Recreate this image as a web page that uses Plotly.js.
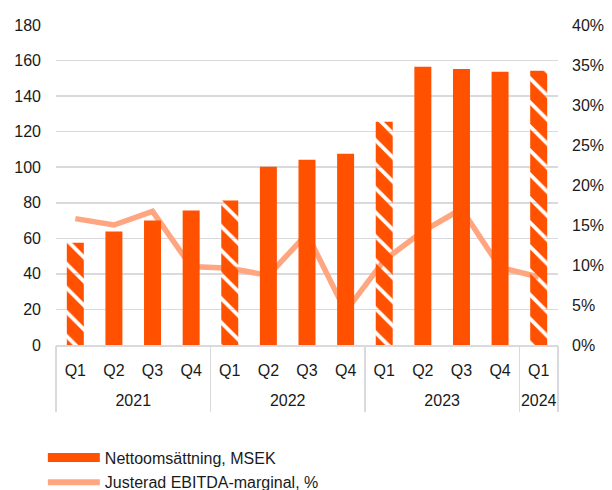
<!DOCTYPE html>
<html>
<head>
<meta charset="utf-8">
<script src="https://cdn.plot.ly/plotly-3.0.1.min.js"></script>
<style>html,body{margin:0;padding:0;background:#fff;}#chart{width:612px;height:490px;}</style>
</head>
<body>
<div id="chart"></div>
<script>
const years = ['2021','2021','2021','2021','2022','2022','2022','2022','2023','2023','2023','2023','2024'];
const quarters = ['Q1','Q2','Q3','Q4','Q1','Q2','Q3','Q4','Q1','Q2','Q3','Q4','Q1'];
const nettoomsattning = [57.5, 63.8, 70, 75.7, 81.3, 100.3, 104.2, 107.6, 125.6, 156.5, 155.3, 153.7, 154.2];
const ebitdaMarginal = [15.8, 15.0, 16.7, 9.8, 9.6, 8.7, 13.9, 4.2, 10.6, 14.2, 17.0, 9.7, 8.5];
const barName = 'Nettoomsättning, MSEK';
const lineName = 'Justerad EBITDA-marginal, %';

const orange = '#FF5100';
const lightOrange = '#FFA680';
const gridGray = '#d9d9de';

// category positions derived from the arrays
const idx = quarters.map((_, i) => i);
const yearList = [...new Set(years)];
const yearCenters = yearList.map(y => {
  const ii = idx.filter(i => years[i] === y);
  return (ii[0] + ii[ii.length - 1]) / 2;
});
const yearBounds = [-0.5].concat(yearList.map(y => idx.filter(i => years[i] === y).pop() + 0.5));
const xRange = [-0.5, quarters.length - 0.5];
const hatch = quarters.map(q => q === 'Q1' ? '\\' : '');

const lineTrace = {
  type: 'scatter', mode: 'lines',
  x: idx, y: ebitdaMarginal,
  xaxis: 'x', yaxis: 'y', name: lineName,
  line: {color: lightOrange, width: 5.5},
  showlegend: false, hoverinfo: 'skip'
};
const barTrace = {
  type: 'bar',
  x: idx, y: nettoomsattning,
  xaxis: 'x', yaxis: 'y2', name: barName,
  marker: {color: orange, line: {width: 0},
    pattern: {shape: hatch, fgcolor: orange, bgcolor: 'rgba(255,255,255,0)', size: 17, solidity: 0.78, fillmode: 'replace'}},
  showlegend: false, hoverinfo: 'skip'
};
// carriers so the year-label axis and the divider axis get drawn
const yearAxisCarrier = {type: 'scatter', mode: 'lines', x: [null], y: [null], xaxis: 'x2', yaxis: 'y',
  showlegend: false, hoverinfo: 'skip'};
const dividerAxisCarrier = {type: 'scatter', mode: 'lines', x: [null], y: [null], xaxis: 'x3', yaxis: 'y',
  showlegend: false, hoverinfo: 'skip'};
const legendBar = {type: 'scatter', mode: 'lines', x: [null], y: [null], name: barName, legendgroup: 'a',
  line: {color: orange, width: 9}, showlegend: true};
const legendLine = {type: 'scatter', mode: 'lines', x: [null], y: [null], name: lineName, legendgroup: 'b',
  line: {color: lightOrange, width: 6}, showlegend: true};

const font = {family: 'Liberation Sans, Arial, sans-serif', size: 16, color: '#1a1a1a'};

const layout = {
  width: 612, height: 490,
  margin: {l: 56, r: 54, t: 25, b: 144.5, autoexpand: false},
  paper_bgcolor: '#fff', plot_bgcolor: '#fff',
  font: font,
  bargap: 0.56,
  showlegend: true,
  legend: {orientation: 'v', xref: 'container', yref: 'container', x: 0.07, y: 0.101, xanchor: 'left', yanchor: 'top',
    font: font, itemwidth: 52, bgcolor: 'rgba(0,0,0,0)', traceorder: 'grouped', tracegroupgap: 1},
  xaxis: {type: 'linear', range: xRange, tickmode: 'array', tickvals: idx, ticktext: quarters,
    showline: true, linecolor: gridGray, linewidth: 1.5, ticks: '', ticklabelstandoff: 10,
    tickfont: font, showgrid: false, zeroline: false},
  xaxis2: {type: 'linear', overlaying: 'x', anchor: 'y', side: 'bottom', range: xRange,
    tickmode: 'array', tickvals: yearCenters, ticktext: yearList, ticks: '', ticklabelstandoff: 44,
    showline: false, showgrid: false, zeroline: false, tickfont: font},
  xaxis3: {type: 'linear', overlaying: 'x', anchor: 'y', side: 'bottom', range: xRange,
    tickmode: 'array', tickvals: yearBounds, showticklabels: false, ticks: 'outside', ticklen: 66,
    tickcolor: gridGray, tickwidth: 1.5, showline: false, showgrid: false, zeroline: false},
  yaxis: {side: 'right', range: [0, 40], dtick: 5, ticksuffix: '%', showgrid: false, zeroline: false,
    tickfont: font, ticks: '', ticklabelstandoff: 13},
  yaxis2: {overlaying: 'y', side: 'left', range: [0, 180], dtick: 20, showgrid: true,
    gridcolor: gridGray, gridwidth: 1.5, zeroline: false, tickfont: font, ticks: '', ticklabelstandoff: 14}
};

Plotly.newPlot('chart', [lineTrace, barTrace, yearAxisCarrier, dividerAxisCarrier, legendBar, legendLine], layout,
  {displayModeBar: false, staticPlot: true});
</script>
</body>
</html>
